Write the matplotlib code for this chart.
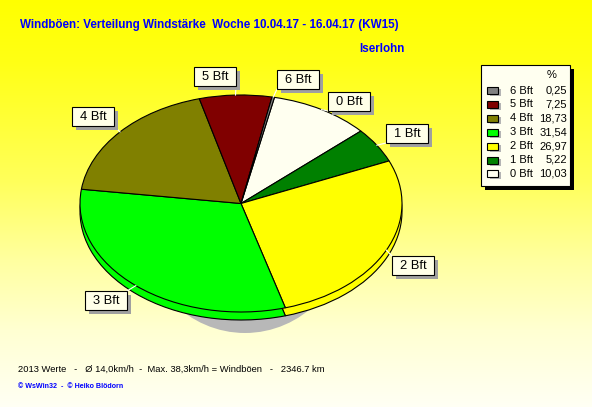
import numpy as np
import matplotlib
matplotlib.use("Agg")
import matplotlib.pyplot as plt
from matplotlib.patches import Rectangle, Ellipse

plt.rcParams['font.family'] = ['Liberation Sans', 'DejaVu Sans']

# --- data -------------------------------------------------------------
categories = ["0 Bft", "1 Bft", "2 Bft", "3 Bft", "4 Bft", "5 Bft", "6 Bft"]
shares = [10.03, 5.22, 26.97, 31.54, 18.73, 7.25, 0.25]
colors = ["#FFFFF0", "#008000", "#FFFF00", "#00FF00", "#808000", "#800000", "#808080"]
legend_order = ["6 Bft", "5 Bft", "4 Bft", "3 Bft", "2 Bft", "1 Bft", "0 Bft"]

title = "Windböen: Verteilung Windstärke  Woche 10.04.17 - 16.04.17 (KW15)"
station = "Iserlohn"
footer = "2013 Werte   -   Ø 14,0km/h  -  Max. 38,3km/h = Windböen   -   2346.7 km"
credits = "© WsWin32  -  © Heiko Blödorn"

# --- layout (pixels) --------------------------------------------------
W, H = 592, 407
CX, CY, RX, RY, DEPTH = 241, 203.5, 161, 108.5, 8
START = 78
label_boxes = {  # left, top of each label box
    "0 Bft": (328, 92), "1 Bft": (386, 124), "2 Bft": (392, 256),
    "3 Bft": (85, 291), "4 Bft": (72, 107), "5 Bft": (194, 67),
    "6 Bft": (277, 70),
}
BW, BH = 42, 19

fig = plt.figure(figsize=(W / 100, H / 100), dpi=100)

# background: yellow fading to cream towards the bottom
bg = fig.add_axes([0, 0, 1, 1])
bg.set_axis_off()
rows = np.arange(H)
blue = np.interp(rows, [0, 60, 180, 260, 330, 407], [0, 20, 90, 160, 210, 245]) / 255
blue = blue[:, None]
grad = np.dstack([np.ones_like(blue), np.ones_like(blue), blue])
bg.imshow(grad, extent=(0, W, H, 0), aspect='auto', interpolation='bilinear')
bg.set_xlim(0, W)
bg.set_ylim(H, 0)

# pie axes: data unit = RX px horizontally, RY px vertically
ax = fig.add_axes([0, 0, 1, 1])
ax.set_axis_off()
xlim = ((0 - CX) / RX, (W - CX) / RX)
ylim = ((CY - H) / RY, (CY - 0) / RY)

# ground shadow
ax.add_patch(Ellipse(((245 - CX) / RX, (CY - 224.5) / RY), 2 * 104 / RX, 2.0,
                     facecolor="#B8B8B8", edgecolor="none", zorder=0))

wp = dict(edgecolor="black", linewidth=0.8)
# lower disc forms the visible side wall, upper disc the top surface
ax.pie(shares, colors=colors, startangle=START, counterclock=False,
       center=(0, -DEPTH / RY), radius=1, wedgeprops=wp)
ax.pie(shares, colors=colors, startangle=START, counterclock=False,
       center=(0, 0), radius=1, wedgeprops=wp)
ax.set_aspect('auto')
ax.set_xlim(*xlim)
ax.set_ylim(*ylim)

# overlay for labels, legend and text
ov = fig.add_axes([0, 0, 1, 1])
ov.set_axis_off()
ov.patch.set_alpha(0)
ov.set_xlim(0, W)
ov.set_ylim(H, 0)

# slice labels with leader lines from the wedge mid-angle
angle = START
for cat, v in zip(categories, shares):
    span = 360 * v / sum(shares)
    mid = np.deg2rad(angle - span / 2)
    angle -= span
    ex, ey = CX + RX * np.cos(mid), CY - RY * np.sin(mid)
    bx, by = label_boxes[cat]
    corners = [(bx, by), (bx + BW, by), (bx, by + BH), (bx + BW, by + BH)]
    kx, ky = min(corners, key=lambda c: (c[0] - ex) ** 2 + (c[1] - ey) ** 2)
    ov.plot([ex, kx], [ey, ky], color="white", lw=0.8, zorder=3)
    ov.add_patch(Rectangle((bx + 4, by + 4), BW, BH, facecolor="#A0A0A0",
                           edgecolor="none", zorder=4))
    ov.add_patch(Rectangle((bx, by), BW, BH, facecolor="#FFFFE8",
                           edgecolor="black", lw=0.8, zorder=5))
    ov.text(bx + BW / 2, by + BH / 2 + 0.5, cat, ha="center", va="center",
            fontsize=9.3, color="black", zorder=6)

# legend
LX, LY, LW, LH = 481, 65, 89, 121
ov.add_patch(Rectangle((LX + 4, LY + 4), LW, LH, facecolor="black",
                       edgecolor="none", zorder=4))
ov.add_patch(Rectangle((LX, LY), LW, LH, facecolor="#FFFFF0",
                       edgecolor="black", lw=0.8, zorder=5))
ov.text(552, 75.5, "%", ha="center", va="center", fontsize=8, zorder=6)
lookup = dict(zip(categories, zip(shares, colors)))
for i, cat in enumerate(legend_order):
    v, c = lookup[cat]
    y = 90 + 13.9 * i
    ov.add_patch(Rectangle((490, y - 1), 11, 7, facecolor="#B4B4B4",
                           edgecolor="none", zorder=6))
    ov.add_patch(Rectangle((487, y - 3), 11, 7, facecolor=c,
                           edgecolor="black", lw=0.8, zorder=7))
    ov.text(510, y + 0.5, cat, ha="left", va="center", fontsize=8, zorder=7)
    ov.text(567, y + 0.5, f"{v:.2f}".replace(".", ","), ha="right",
            va="center", fontsize=8, zorder=7)

# titles and footer
ov.text(20, 25, title, ha="left", va="center", fontsize=8.4, fontweight="bold",
        color="#0000FF", zorder=7)
ov.text(405, 49, station, ha="right", va="center", fontsize=8.4,
        fontweight="bold", color="#0000FF", zorder=7)
ov.text(18, 369, footer, ha="left", va="center", fontsize=6.75, color="black",
        zorder=7)
ov.text(18, 386, credits, ha="left", va="center", fontsize=5.15,
        fontweight="bold", color="#0000FF", zorder=7)

fig.savefig("out.png", dpi=100)
